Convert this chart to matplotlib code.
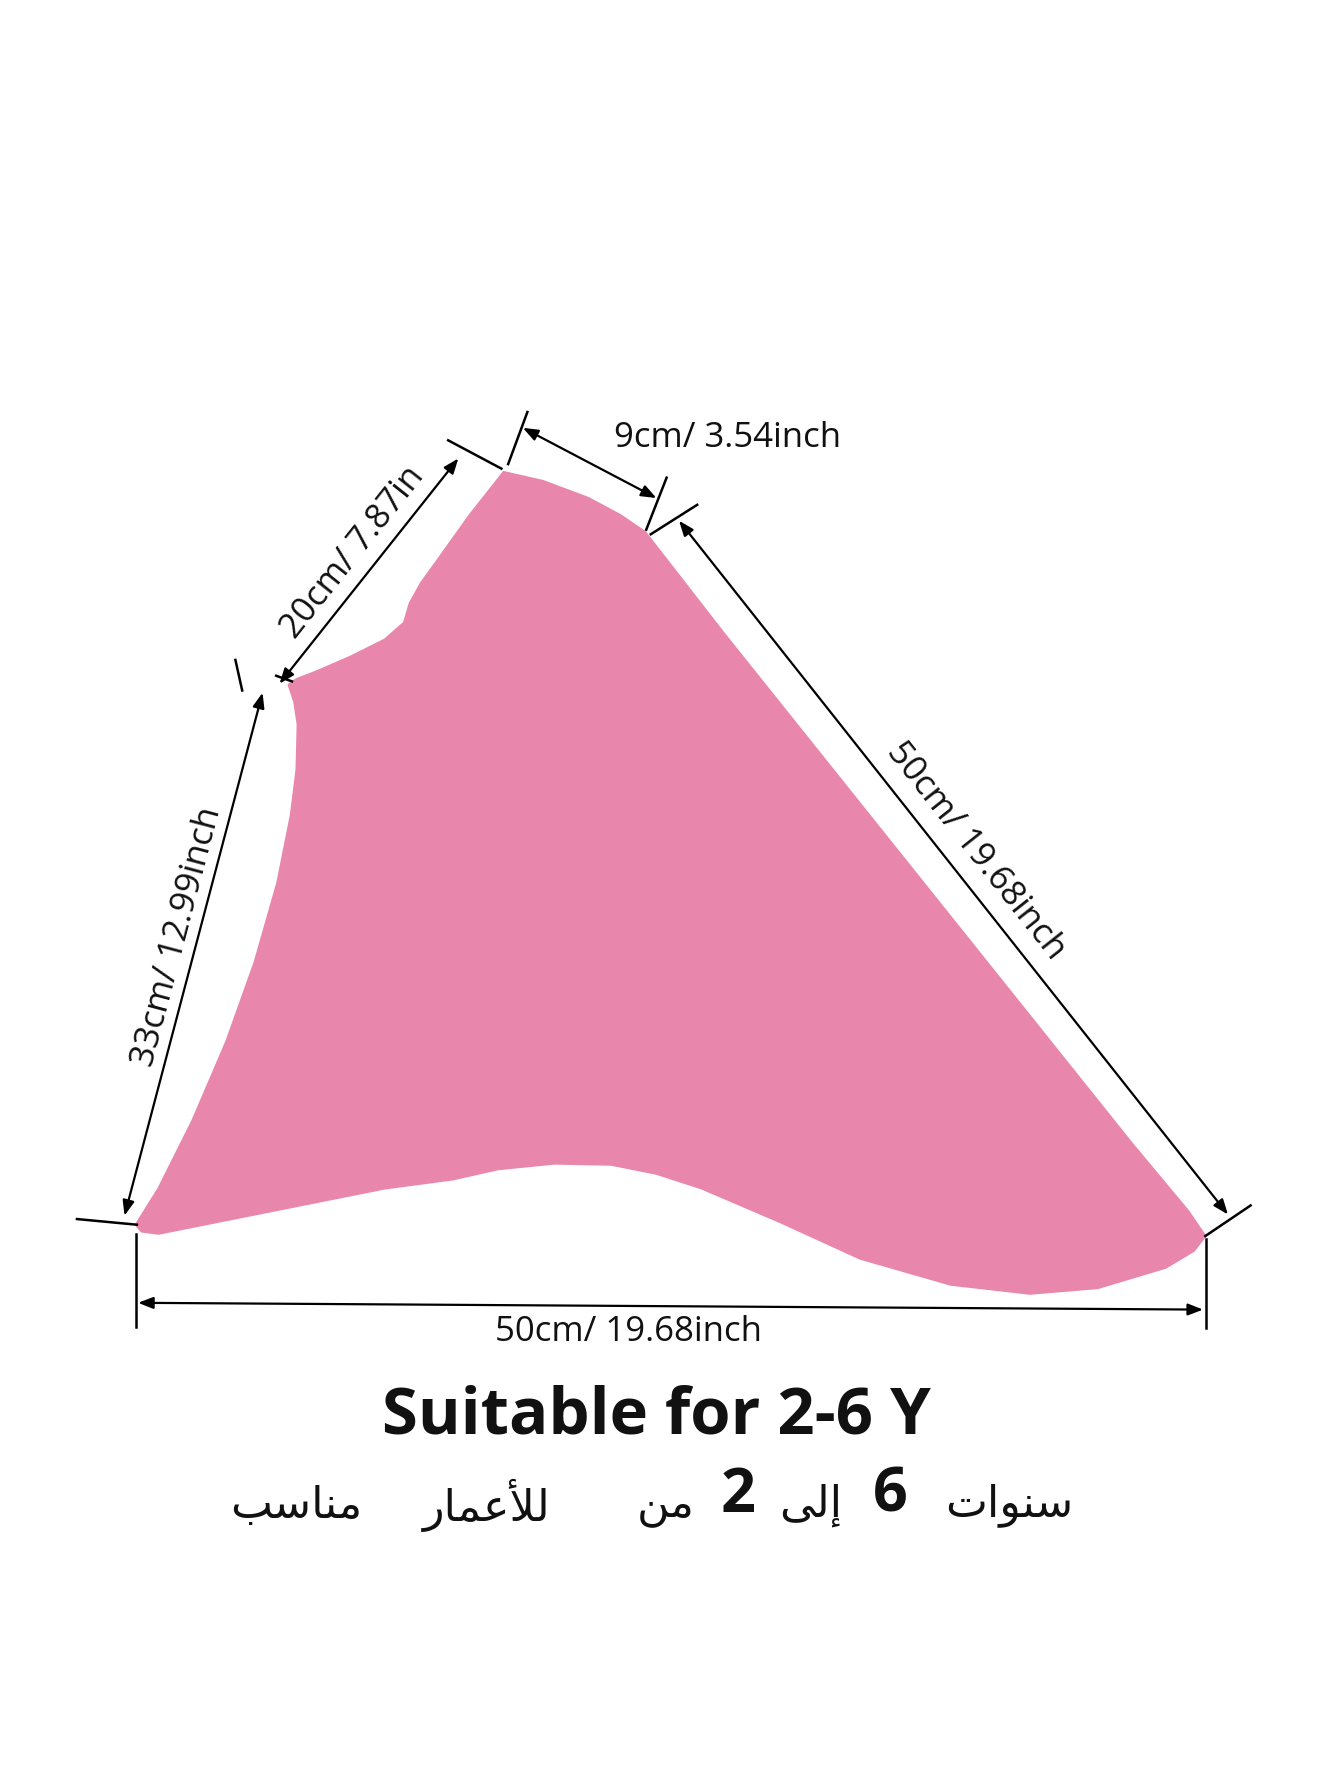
import matplotlib
matplotlib.use("Agg")
import matplotlib.pyplot as plt
from matplotlib.patches import Polygon, FancyArrowPatch
import numpy as np

W, H = 1184, 1577
pink = "#E887AB"

# outline of the piece (image coordinates)
shape_x = [445, 480, 520, 548, 570, 640, 760, 880, 1000, 1050, 1065, 1055, 1030, 970, 910, 840, 760, 690, 620, 580, 540, 490, 440, 400, 340, 250, 180, 140, 125, 120,
           140, 170, 200, 225, 245, 257, 262, 263, 260, 255, 262, 280, 310, 340, 357, 362, 372, 390, 415, 445]
shape_y = [417, 425, 440, 455, 470, 560, 710, 860, 1010, 1070, 1092, 1105, 1120, 1138, 1143, 1135, 1112, 1080, 1050, 1037, 1029, 1028, 1033, 1042, 1050, 1068, 1082, 1090, 1088, 1082,
           1050, 990, 920, 850, 780, 720, 680, 640, 620, 605, 600, 593, 580, 565, 550, 533, 515, 490, 455, 417]

dims = [
    (462, 378, 580, 440, "9cm/ 3.54inch", 643, 387, 0),
    (405, 405, 247, 604, "20cm/ 7.87in", 312, 488, 51.6),
    (600, 460, 1085, 1073, "50cm/ 19.68inch", 862, 752, -51.6),
    (232, 612, 110, 1074, "33cm/ 12.99inch", 157, 828, 75.2),
    (122, 1151, 1063, 1157, "50cm/ 19.68inch", 555, 1177, 0),
]
ticks = [
    ((466, 364), (449, 410)), ((396, 389), (443, 414)),
    ((589, 422), (571, 468)), ((575, 472), (616, 446)),
    ((208, 583), (214, 610)), ((244, 597), (258, 602)),
    ((1065, 1092), (1105, 1065)), ((68, 1077), (121, 1082)),
    ((120, 1090), (120, 1172)), ((1066, 1095), (1066, 1173)),
]

fig = plt.figure(figsize=(13.4, 17.85), dpi=100)
ax = fig.add_axes([0, 0, 1, 1])
ax.set_xlim(0, W)
ax.set_ylim(H, 0)
ax.axis("off")
ax.add_patch(Polygon(np.column_stack([shape_x, shape_y]), closed=True, fc=pink, ec=pink, lw=1.5, joinstyle="round"))

for (a, b) in ticks:
    ax.plot([a[0], b[0]], [a[1], b[1]], color="black", lw=1.8)
for x1, y1, x2, y2, lab, lx, ly, rot in dims:
    ax.add_patch(FancyArrowPatch((x1, y1), (x2, y2), arrowstyle="<|-|>,head_length=9,head_width=3.5",
                                 color="black", lw=1.6, shrinkA=0, shrinkB=0))
    ax.text(lx, ly, lab, rotation=rot, ha="center", va="center", fontsize=25,
            family="Open Sans", color="#111111")

ax.text(580, 1252, "Suitable for 2-6 Y", ha="center", va="center", fontsize=47,
        family="Open Sans", fontweight="bold", color="#111111")

# Arabic line (visual order, presentation forms)
words = ["\uFE90\uFEB3\uFE8E\uFEE8\uFEE3", "\uFEAD\uFE8E\uFEE4\uFECB\uFEF8\uFEDF", "\uFEE6\uFEE3",
         "2", "\uFEF0\uFEDF\uFE87", "6", "\uFE95\uFE8D\uFEEE\uFEE8\uFEB3"]
xs = [262, 430, 588, 652, 716, 787, 892]
for w, x in zip(words, xs):
    if w.isdigit():
        ax.text(x, 1322, w, ha="center", va="center", fontsize=44, family="Open Sans",
                fontweight="bold", color="#111111")
    else:
        ax.text(x, 1330, w, ha="center", va="center", fontsize=32,
                family="DejaVu Sans", color="#111111")

fig.savefig("out.png", dpi=100, facecolor="white")
